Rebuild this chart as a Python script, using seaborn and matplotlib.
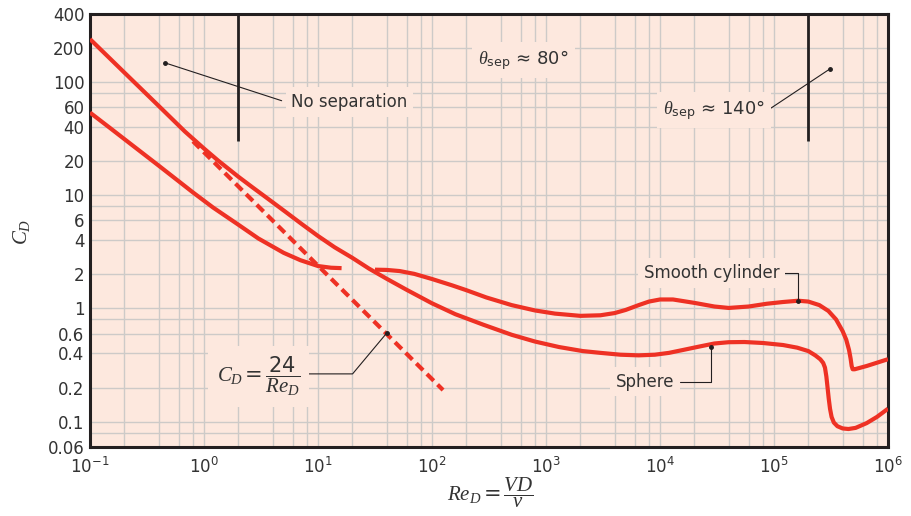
import matplotlib
matplotlib.use("Agg")
import numpy as np
import pandas as pd
import matplotlib.pyplot as plt
import seaborn as sns
from matplotlib.ticker import FixedLocator, FixedFormatter, NullFormatter

# values (Re_D, C_D)
sphere_re = [0.1, 0.2, 0.4, 0.68, 1.0, 1.335, 2.0, 2.62, 3.7, 5.13, 7.2, 10, 14, 20, 28,
             40, 60, 100, 160, 280, 500, 800, 1300, 2100, 3000, 4500, 6500, 9000,
             12000, 16000, 22000, 30000, 40000, 55000, 80000, 120000, 160000, 200000,
             230000, 255000, 270000, 280000, 288000, 295000, 302000, 310000, 320000,
             335000, 360000, 400000, 450000, 520000, 650000, 800000, 1e6]
sphere_cd = [240, 121.6, 61.7, 36.6, 25.9, 20.2, 14.6, 11.9, 9.2, 7.2, 5.57, 4.37, 3.47,
             2.8, 2.25, 1.83, 1.46, 1.11, 0.89, 0.72, 0.585, 0.51, 0.456, 0.42, 0.405,
             0.39, 0.385, 0.39, 0.405, 0.43, 0.46, 0.49, 0.503, 0.505, 0.495, 0.475,
             0.45, 0.42, 0.385, 0.355, 0.33, 0.30, 0.25, 0.20, 0.16, 0.13, 0.11, 0.098,
             0.091, 0.087, 0.086, 0.088, 0.097, 0.11, 0.13]

cyl_low_re = [0.1, 0.15, 0.2, 0.3, 0.4, 0.6, 0.8, 1.2, 2, 3, 5, 7, 10, 13, 16.1]
cyl_low_cd = [53.8, 39.3, 31.4, 22.9, 18.3, 13.3, 10.6, 7.8, 5.5, 4.15, 3.1, 2.67, 2.37,
              2.29, 2.27]

cyl_high_re = [31.6, 40, 52, 70, 100, 150, 200, 300, 500, 800, 1200, 2000, 3000, 4000,
               5000, 6500, 8000, 10000, 13000, 20000, 30000, 40000, 60000, 86300,
               120000, 163000, 200000, 250000, 300000, 350000, 400000, 430000, 455000,
               470000, 480000, 490000, 510000, 650000, 1e6]
cyl_high_cd = [2.2, 2.19, 2.14, 2.02, 1.82, 1.6, 1.45, 1.25, 1.07, 0.96, 0.9, 0.86,
               0.87, 0.91, 0.97, 1.07, 1.15, 1.2, 1.2, 1.12, 1.04, 1.01, 1.04, 1.10,
               1.14, 1.17, 1.15, 1.07, 0.95, 0.8, 0.63, 0.53, 0.43, 0.36, 0.31, 0.29,
               0.29, 0.31, 0.356]

stokes_re = [0.8, 125]
stokes_cd = [30, 0.19]

sep_lines_re = [2, 2e5]
sep_lines_cd = [30, 400]

x_ticks = [0.1, 1, 10, 100, 1e3, 1e4, 1e5, 1e6]
x_tick_labels = [r"$\mathdefault{10^{-1}}$", r"$\mathdefault{10^{0}}$",
                 r"$\mathdefault{10^{1}}$", r"$\mathdefault{10^{2}}$",
                 r"$\mathdefault{10^{3}}$", r"$\mathdefault{10^{4}}$",
                 r"$\mathdefault{10^{5}}$", r"$\mathdefault{10^{6}}$"]
x_minor = [m * d for d in x_ticks[:-1] for m in (2, 4, 6, 8)]

y_ticks = [0.06, 0.1, 0.2, 0.4, 0.6, 1, 2, 4, 6, 10, 20, 40, 60, 100, 200, 400]
y_tick_labels = ["0.06", "0.1", "0.2", "0.4", "0.6", "1", "2", "4", "6", "10", "20",
                 "40", "60", "100", "200", "400"]
y_minor = [0.08, 0.8, 8, 80]

bg = "#fde8de"
red = "#ee3124"
dark = "#231f20"

sns.set_theme(style="white")
plt.rcParams["font.family"] = ["DejaVu Sans"]
plt.rcParams["mathtext.fontset"] = "custom"
plt.rcParams["mathtext.rm"] = "DejaVu Sans"
plt.rcParams["mathtext.sf"] = "DejaVu Sans"
plt.rcParams["mathtext.it"] = "Liberation Serif:italic"
plt.rcParams["mathtext.bf"] = "DejaVu Sans:bold"

fig = plt.figure(figsize=(9.11, 5.16), dpi=100)
ax = fig.add_axes([90 / 911, 1 - 446.7 / 516, 798 / 911, 432.7 / 516])
ax.set_facecolor(bg)
ax.set_xscale("log")
ax.set_yscale("log")

curves = [
    pd.DataFrame({"Re": sphere_re, "CD": sphere_cd}),
    pd.DataFrame({"Re": cyl_low_re, "CD": cyl_low_cd}),
    pd.DataFrame({"Re": cyl_high_re, "CD": cyl_high_cd}),
]
for df in curves:
    sns.lineplot(data=df, x="Re", y="CD", ax=ax, color=red, lw=3, sort=False,
                 estimator=None, solid_capstyle="butt", solid_joinstyle="round",
                 zorder=4)

sns.lineplot(x=stokes_re, y=stokes_cd, ax=ax, color=red, lw=3, sort=False,
             estimator=None, zorder=4, linestyle=(0, (2.3, 1.3)))

ax.vlines(sep_lines_re, sep_lines_cd[0], sep_lines_cd[1], color=dark, lw=2, zorder=3)

ax.set_xlim(0.1, 1e6)
ax.set_ylim(0.06, 400)

ax.xaxis.set_major_locator(FixedLocator(x_ticks))
ax.xaxis.set_major_formatter(FixedFormatter(x_tick_labels))
ax.xaxis.set_minor_locator(FixedLocator(x_minor))
ax.xaxis.set_minor_formatter(NullFormatter())
ax.yaxis.set_major_locator(FixedLocator(y_ticks))
ax.yaxis.set_major_formatter(FixedFormatter(y_tick_labels))
ax.yaxis.set_minor_locator(FixedLocator(y_minor))
ax.yaxis.set_minor_formatter(NullFormatter())

ax.grid(True, which="both", color="#cdcac8", lw=1.0, zorder=1)
ax.set_axisbelow(True)
ax.tick_params(which="both", length=0, labelsize=12, labelcolor="#333333")
ax.tick_params(axis="x", pad=7)
ax.tick_params(axis="y", pad=4)
ax.set_xlabel("")
ax.set_ylabel("")
for s in ax.spines.values():
    s.set_color(dark)
    s.set_linewidth(2.2)
    s.set_visible(True)

box = dict(boxstyle="square,pad=0.35", fc=bg, ec="none")
tcol = "#333333"

# labels and leader lines
ax.plot([0.455, 4.8], [148, 68.5], color=dark, lw=0.8, zorder=3)
ax.plot([0.455], [148], "o", color=dark, ms=2.5, zorder=3)
ax.text(18.9, 67, "No separation", ha="center", va="center", fontsize=12,
        color=tcol, bbox=box, zorder=5)

ax.text(635, 157, r"$\theta_{\mathsf{sep}}$ ≈ 80°", ha="center", va="center",
        fontsize=13, color=tcol, bbox=box, zorder=5)

ax.plot([94200, 310000], [59, 131], color=dark, lw=0.8, zorder=3)
ax.plot([310000], [131], "o", color=dark, ms=2.5, zorder=3)
ax.text(29800, 56.8, r"$\theta_{\mathsf{sep}}$ ≈ 140°", ha="center", va="center",
        fontsize=13, color=tcol, bbox=box, zorder=5)

ax.plot([117000, 163000, 163000], [2.07, 2.07, 1.17], color=dark, lw=0.8, zorder=5)
ax.plot([163000], [1.17], "o", color=dark, ms=2.5, zorder=5)
ax.text(28300, 2.07, "Smooth cylinder", ha="center", va="center", fontsize=12,
        color=tcol, bbox=box, zorder=5)

ax.plot([15000, 28000, 28000], [0.226, 0.226, 0.457], color=dark, lw=0.8, zorder=5)
ax.plot([28000], [0.457], "o", color=dark, ms=2.5, zorder=5)
ax.text(7380, 0.226, "Sphere", ha="center", va="center", fontsize=12,
        color=tcol, bbox=box, zorder=5)

ax.plot([8.2, 20.1, 40.3], [0.264, 0.264, 0.61], color=dark, lw=0.8, zorder=5)
ax.plot([40.3], [0.61], "o", color=dark, ms=2.5, zorder=5)
ax.text(3.0, 0.25, r"$C_D = \dfrac{\mathsf{24}}{Re_D}$", ha="center", va="center",
        fontsize=15, color=tcol, bbox=dict(boxstyle="square,pad=0.4", fc=bg, ec="none"),
        zorder=5)

fig.text(22 / 911, 1 - 232 / 516, r"$C_D$", rotation=90, ha="center", va="center",
         fontsize=15, color=tcol)
fig.text(490 / 911, 1 - 493 / 516, r"$Re_D = \dfrac{VD}{\nu}$", ha="center",
         va="center", fontsize=15, color=tcol)

fig.savefig("out.png", dpi=100, facecolor="white")
